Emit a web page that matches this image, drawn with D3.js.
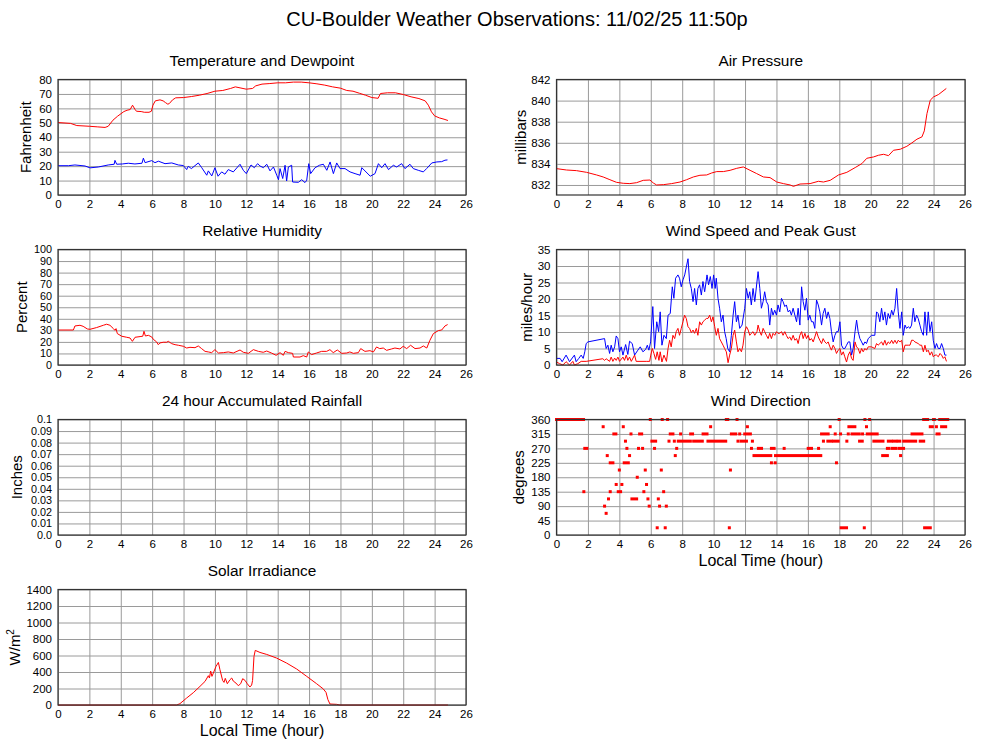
<!DOCTYPE html>
<html>
<head>
<meta charset="utf-8">
<script src="https://cdn.jsdelivr.net/npm/d3@7"></script>
<style>
  body { margin: 0; background: #fff; }
  svg text { font-family: "Liberation Sans", Arial, Helvetica, sans-serif; fill: #000; }
</style>
</head>
<body>
<svg id="chart" width="1000" height="745"></svg>
<script>
// readings as [hour, value]
const tempF = [[0,50.2],[0.8,49.6],[1.2,48.1],[2,47.6],[2.5,47.2],[3.0,46.8],[3.2,47.6],[3.5,51.8],[3.8,54.6],[4.2,57.8],[4.4,58.7],[4.6,59.2],[4.75,62.2],[4.9,59.4],[5.0,58],[5.3,57.8],[5.5,57.3],[5.8,57.3],[5.95,58],[6.05,62.2],[6.2,65.2],[6.5,65.9],[6.7,65.2],[6.85,64],[7.0,62.9],[7.1,63.4],[7.3,65.9],[7.5,67.3],[8,67.5],[8.5,68.2],[9,69.1],[9.5,70.3],[10,71.9],[10.5,72.4],[11,73.8],[11.3,74.9],[11.6,74.2],[12,73.3],[12.4,73.8],[12.6,75.6],[13,76.8],[13.5,77.2],[14,77.7],[14.5,77.7],[15,78.2],[15.5,78.2],[16,77.7],[16.5,77.0],[17,76.1],[17.5,74.9],[18,74],[18.4,72.4],[18.8,71.9],[19.2,70.5],[19.6,69.1],[20,67.5],[20.4,67],[20.55,70.3],[21,70.8],[21.5,70.8],[22,69.6],[22.5,68],[23,66.8],[23.4,65.2],[23.6,62.2],[23.8,57.6],[24,54.8],[24.3,53.4],[24.6,52.5],[24.85,51.6]];

const dewF = [[0,20.3],[0.66,20.3],[1.08,20.8],[1.72,20.1],[2.04,18.8],[2.57,19.4],[3.2,20.8],[3.58,21.3],[3.63,24.0],[3.74,21.3],[4.1,21.5],[4.48,22.0],[4.9,21.5],[5.35,22.0],[5.44,25.5],[5.55,22.4],[5.97,23.8],[6.18,22.4],[6.4,23.4],[6.82,21.7],[7.25,22.2],[7.67,20.8],[7.99,20.4],[8.2,17.6],[8.3,19.9],[8.5,18.3],[8.94,22.2],[9.16,18.9],[9.48,13.7],[9.58,16.7],[9.8,13.2],[10.0,18.9],[10.2,13.0],[10.43,16.0],[10.64,14.4],[10.85,17.6],[11.17,16.0],[11.6,21.3],[11.81,17.1],[12.0,14.8],[12.3,20.8],[12.51,18.9],[12.72,21.7],[12.87,20.1],[13.09,18.9],[13.3,21.3],[13.51,16.7],[13.73,19.4],[13.94,13.7],[14.05,10.6],[14.15,18.3],[14.32,11.4],[14.47,20.6],[14.57,9.7],[14.68,19.4],[14.89,20.6],[14.95,9.0],[15.32,8.8],[15.53,10.6],[15.74,8.6],[15.85,10.2],[15.98,21.7],[16.1,14.8],[16.38,18.9],[16.66,20.6],[16.91,21.3],[17.13,17.1],[17.34,22.9],[17.55,14.8],[17.76,22.2],[17.97,18.3],[18.29,18.3],[18.61,16.0],[18.93,14.8],[19.25,13.7],[19.36,18.9],[19.9,13.0],[20.2,14.8],[20.42,21.7],[20.63,18.9],[20.84,21.7],[21.06,17.6],[21.37,20.6],[21.58,19.4],[21.9,21.7],[22.11,18.3],[22.43,21.3],[22.64,18.3],[22.96,17.1],[23.28,16.0],[23.49,18.3],[23.82,22.2],[24.14,22.9],[24.45,23.1],[24.66,24.1],[24.82,24.3]];

const pressureMb = [[0,833.55],[0.64,833.42],[1.27,833.36],[1.91,833.2],[2.55,832.95],[2.97,832.76],[3.4,832.5],[3.82,832.25],[4.25,832.16],[4.67,832.13],[5.1,832.22],[5.52,832.44],[5.95,832.47],[6.16,832.19],[6.37,832.0],[6.8,832.03],[7.33,832.13],[7.86,832.28],[8.28,832.5],[8.71,832.76],[9.13,832.92],[9.56,832.95],[9.88,833.14],[10.2,833.27],[10.62,833.27],[11.05,833.39],[11.47,833.58],[11.89,833.71],[12.32,833.39],[12.74,833.08],[13.17,832.76],[13.59,832.7],[14.02,832.28],[14.44,832.13],[14.87,832.0],[15.08,831.87],[15.5,832.09],[16.14,832.13],[16.67,832.35],[16.99,832.28],[17.42,832.44],[17.95,832.95],[18.48,833.2],[19.01,833.65],[19.44,834.03],[19.75,834.53],[20.18,834.66],[20.5,834.82],[20.82,834.91],[21.13,834.78],[21.45,835.29],[21.88,835.39],[22.3,835.67],[22.62,835.99],[22.94,836.34],[23.26,836.56],[23.41,837.13],[23.58,838.77],[23.79,840.04],[24.0,840.35],[24.32,840.58],[24.81,841.15]];

const humidityPct = [[0,30.3],[0.98,30.3],[1.08,33.8],[1.4,34.4],[1.6,33.5],[1.87,31.2],[2.04,30.9],[2.46,32.4],[2.89,34.4],[3.1,35.3],[3.31,34.4],[3.53,31.5],[3.63,30.0],[3.7,31.5],[3.78,27.2],[4.06,24.9],[4.38,24.0],[4.59,23.4],[4.74,20.5],[4.91,24.0],[5.23,24.6],[5.4,24.9],[5.48,29.2],[5.57,25.1],[5.76,25.7],[5.97,24.3],[6.07,22.3],[6.29,19.9],[6.39,17.6],[6.5,19.1],[6.71,19.7],[6.92,19.7],[7.03,20.5],[7.24,18.5],[7.46,17.6],[7.67,17.1],[7.99,16.2],[8.2,14.7],[8.41,15.3],[8.73,15.0],[8.94,16.5],[9.15,14.2],[9.37,11.8],[9.58,11.3],[9.79,10.7],[10.0,13.3],[10.22,10.4],[10.54,10.7],[10.85,11.3],[11.17,10.4],[11.6,13.0],[11.81,11.0],[12.13,10.1],[12.45,13.3],[12.77,11.8],[13.08,11.0],[13.3,12.1],[13.6,10.4],[13.9,8.4],[14.15,10.7],[14.36,8.4],[14.47,11.8],[14.68,10.7],[14.95,10.1],[15.0,6.9],[15.42,6.9],[15.63,8.1],[15.85,6.9],[15.95,11.3],[16.16,9.0],[16.48,10.4],[16.8,11.8],[17.12,11.8],[17.33,13.3],[17.54,10.7],[17.8,13.0],[18.08,10.1],[18.4,10.4],[18.6,11.3],[18.82,10.1],[19.14,10.7],[19.29,14.2],[19.56,11.8],[19.88,12.4],[20.1,11.3],[20.3,15.6],[20.5,14.2],[20.73,14.7],[20.94,12.7],[21.26,13.9],[21.47,14.7],[21.79,13.9],[22.0,16.2],[22.22,14.2],[22.47,17.1],[22.75,14.2],[23.07,14.7],[23.28,16.5],[23.5,14.7],[23.7,21.4],[23.92,27.2],[24.24,29.8],[24.45,30.3],[24.66,33.8],[24.83,35.0]];

const gustMph = [[0,2],[0.23,2],[0.36,1],[0.61,3],[0.83,1],[1.14,3],[1.25,1],[1.42,2],[1.57,3],[1.7,2],[1.8,4],[1.89,6.5],[2.0,7],[3.06,8],[3.16,5],[3.27,6],[3.38,3.5],[3.48,6],[3.59,4],[3.7,5.5],[3.8,8.8],[3.91,8],[4.01,4],[4.12,5.5],[4.23,3],[4.4,6.2],[4.54,3.2],[4.65,7.2],[4.82,6.5],[4.97,3],[5.18,4.5],[5.33,5.5],[5.5,4],[5.67,4.7],[5.78,6],[5.88,4.5],[5.99,7],[6.13,17.7],[6.24,5],[6.38,13.1],[6.5,10.1],[6.6,16.1],[6.71,6],[6.84,9],[6.99,8],[7.1,15.1],[7.24,15.6],[7.37,23.7],[7.47,20.2],[7.58,26.3],[7.73,27.3],[7.83,26.3],[7.94,23.7],[8.05,25.8],[8.16,27.3],[8.37,32.2],[8.47,25.3],[8.58,23.2],[8.69,19.2],[8.79,23.2],[8.9,18.2],[9.0,23.2],[9.11,24.3],[9.22,21.2],[9.32,25.3],[9.43,22.2],[9.58,27.3],[9.68,24.3],[9.79,26.8],[9.9,23.2],[10.0,27.3],[10.1,23.2],[10.17,26.3],[10.28,20.2],[10.38,17.2],[10.49,13.1],[10.6,15.1],[10.7,10.1],[10.8,8],[10.9,5],[11.02,4],[11.13,9],[11.24,15.1],[11.34,19.2],[11.45,13.1],[11.55,15.1],[11.66,11.1],[11.81,12.1],[11.98,17.2],[12.09,23.2],[12.2,20.2],[12.3,22.2],[12.4,18.2],[12.51,23.2],[12.62,19.2],[12.83,28.3],[12.94,23.2],[13.04,17.2],[13.15,19.2],[13.25,22.2],[13.36,19.2],[13.47,18.2],[13.57,12.1],[13.68,17.2],[13.78,15.1],[13.89,16.6],[14.0,15.1],[14.1,18.2],[14.21,16.1],[14.32,20.2],[14.42,19.2],[14.53,17.7],[14.63,18.2],[14.74,16.1],[14.85,16.6],[14.95,15.1],[15.06,17.2],[15.17,15.1],[15.28,13.1],[15.38,17.2],[15.49,12.1],[15.6,23.7],[15.7,19.2],[15.81,16.6],[15.91,20.2],[16.02,13.6],[16.12,15.1],[16.23,13.1],[16.34,13.1],[16.44,11.1],[16.55,19.7],[16.66,18.2],[16.76,16.1],[16.87,12.1],[16.97,15.6],[17.08,17.2],[17.19,14.1],[17.29,16.1],[17.4,14.1],[17.5,10.1],[17.61,7],[17.72,9],[17.82,10.1],[17.93,10.1],[18.04,13.1],[18.14,6],[18.25,5],[18.35,5],[18.46,6],[18.57,7],[18.67,7],[18.78,3],[18.88,5],[19.0,10.1],[19.1,13.6],[19.2,10.1],[19.31,8],[19.42,7],[19.52,6],[19.63,7],[19.73,6.5],[19.84,8],[20.05,9],[20.26,9],[20.37,16.1],[20.47,15.6],[20.58,13.1],[20.69,17.2],[20.79,13.6],[20.9,16.1],[21.0,12.1],[21.11,15.6],[21.22,14.1],[21.33,16.6],[21.43,15.1],[21.54,17.2],[21.65,23.2],[21.75,16.1],[21.86,11.1],[21.97,16.1],[22.07,9],[22.18,12.1],[22.28,11.1],[22.39,11.6],[22.5,11.1],[22.6,12.1],[22.71,17.2],[22.81,13.1],[22.92,15.1],[23.02,14.1],[23.13,12.1],[23.24,10.1],[23.35,9],[23.45,16.1],[23.56,9],[23.66,16.1],[23.77,10.1],[23.88,13.1],[23.98,7.5],[24.09,5],[24.19,6.5],[24.3,5],[24.41,5],[24.51,6.5],[24.62,5],[24.72,3],[24.82,3]];

const speedMph = [[0,0.9],[0.2,0.4],[0.41,0],[0.61,1],[0.83,0],[1.04,1.1],[1.14,0],[1.36,0.4],[1.57,1.1],[1.89,1.1],[2.95,1.9],[3.06,1.4],[3.16,1.9],[3.38,1.1],[3.48,2.4],[3.59,1.1],[3.7,2.1],[3.8,1.4],[3.91,2.4],[4.01,1.1],[4.23,2.4],[4.33,1.4],[4.44,3],[4.54,1.4],[4.65,2.4],[4.76,1.1],[4.97,3],[5.07,1.1],[5.71,1.1],[5.93,1.1],[6.0,3],[6.1,5],[6.2,3.5],[6.31,1.7],[6.41,4],[6.52,1.4],[6.6,4],[6.71,0.9],[6.84,3],[7.0,1.1],[7.1,5],[7.2,7.5],[7.3,5.5],[7.41,9],[7.52,8],[7.62,10.1],[7.73,11.1],[7.83,9],[7.94,11.1],[8.05,13.1],[8.15,15.1],[8.26,14.1],[8.37,11.6],[8.47,11.1],[8.58,9.8],[8.69,10.6],[8.79,9.6],[8.9,11.1],[9.0,9],[9.11,13.1],[9.22,12.1],[9.32,13.1],[9.43,13.6],[9.54,14.1],[9.64,14.1],[9.75,15.1],[9.86,13.1],[9.96,14.6],[10.07,11.6],[10.17,9],[10.28,11.1],[10.38,8],[10.49,7],[10.6,6],[10.7,5],[10.81,4],[10.92,0.7],[11.02,3],[11.13,5],[11.24,9],[11.34,10.6],[11.45,7],[11.55,4],[11.66,5],[11.77,4],[11.87,6],[11.98,10.1],[12.09,11.6],[12.2,10.6],[12.3,9],[12.4,9.6],[12.51,10.1],[12.62,9],[12.76,10.1],[12.83,12.1],[12.94,10.1],[13.04,9],[13.15,11.1],[13.25,10.1],[13.36,9],[13.47,8],[13.57,9.6],[13.68,8],[13.78,9.6],[13.89,9],[14.0,10.1],[14.1,9.6],[14.21,9.6],[14.32,10.1],[14.42,9],[14.53,10.1],[14.63,9],[14.74,8],[14.85,8.5],[14.95,7.5],[15.06,9],[15.17,7.5],[15.28,8],[15.38,6.5],[15.49,9],[15.6,10.1],[15.7,8],[15.81,9.6],[15.91,8],[16.02,9],[16.12,7.5],[16.23,8],[16.34,7],[16.44,8.5],[16.55,10.1],[16.66,8.5],[16.76,7.5],[16.87,6.5],[16.97,8],[17.08,7],[17.19,6.5],[17.29,7],[17.4,5.5],[17.5,4.5],[17.61,6],[17.72,5],[17.82,3.5],[17.93,4.5],[18.04,5],[18.14,3],[18.25,4],[18.35,2.5],[18.46,0.9],[18.57,3],[18.67,4],[18.78,2],[18.88,1.4],[19.0,7],[19.1,5.5],[19.2,5],[19.31,3.5],[19.42,5],[19.52,4],[19.63,5],[19.73,4.5],[19.84,5.5],[20.05,5.5],[20.26,5],[20.37,6.5],[20.47,6],[20.69,7],[20.79,6],[20.9,7.5],[21.0,6],[21.11,7],[21.22,6.5],[21.33,7.5],[21.43,6.5],[21.54,7.5],[21.65,6.5],[21.75,7.5],[21.86,7],[21.97,7.5],[22.07,4],[22.18,6],[22.39,6],[22.5,6],[22.6,7.5],[22.71,7.5],[22.81,7],[23.02,6.5],[23.13,6],[23.24,6],[23.35,4],[23.45,6],[23.56,4],[23.66,4.5],[23.77,3],[23.88,4],[23.98,2.5],[24.09,3],[24.19,3],[24.3,2.5],[24.41,3.5],[24.51,3],[24.62,2],[24.72,2.5],[24.82,1.1]];

// wind direction runs: [fromHour, toHour, degrees]
const windDir = [
  [0,1.72,360],[5.97,5.97,360],[6.73,6.73,360],[7.07,7.07,360],[10.81,10.9,360],[11.49,11.49,360],[17.99,17.99,360],[19.63,19.63,360],[19.93,19.93,360],[23.37,23.62,360],[24.0,24.05,360],[24.39,24.9,360],
  [2.97,2.97,337.5],[4.25,4.25,337.5],[9.81,9.81,337.5],[12.15,12.15,337.5],[17.42,17.42,337.5],[18.61,18.99,337.5],[19.73,19.73,337.5],[23.79,23.92,337.5],[24.18,24.18,337.5],[24.51,24.77,337.5],
  [3.65,3.78,315],[4.74,4.74,315],[5.29,5.42,315],[7.24,7.41,315],[7.9,7.9,315],[8.54,8.66,315],[9.33,9.58,315],[11.13,11.41,315],[11.66,11.66,315],[11.98,12.34,315],[16.87,17.29,315],[17.74,17.74,315],[18.08,18.08,315],[18.57,18.57,315],[18.81,19.27,315],[19.48,19.48,315],[19.78,20.41,315],[22.63,23.26,315],[24.22,24.35,315],
  [4.39,4.39,292.5],[6.07,6.31,292.5],[7.16,7.16,292.5],[7.5,7.5,292.5],[7.75,8.52,292.5],[8.73,9.28,292.5],[9.64,10.77,292.5],[11.55,11.55,292.5],[11.75,12.09,292.5],[12.47,12.47,292.5],[16.99,16.99,292.5],[17.27,17.5,292.5],[17.65,17.93,292.5],[18.48,18.48,292.5],[19.29,19.46,292.5],[20.2,20.78,292.5],[21.12,21.3,292.5],[21.45,21.6,292.5],[21.75,21.85,292.5],[22.1,22.86,292.5],[23.15,23.37,292.5],
  [1.8,1.93,270],[4.48,4.48,270],[5.22,5.22,270],[5.48,5.48,270],[6.24,6.24,270],[7.65,7.65,270],[12.41,12.41,270],[12.85,13.05,270],[13.68,13.85,270],[14.49,14.49,270],[16.02,16.23,270],[16.68,16.68,270],[21.06,21.16,270],[21.37,21.58,270],[21.79,22.09,270],
  [3.23,3.23,247.5],[4.65,4.65,247.5],[7.56,7.56,247.5],[12.57,13.64,247.5],[13.94,16.82,247.5],[20.76,21.06,247.5],[21.9,21.9,247.5],
  [3.42,3.59,225],[4.31,4.57,225],[13.68,13.68,225],[13.92,13.92,225],[17.82,17.82,225],
  [4.0,4.0,202.5],[5.65,5.65,202.5],[6.67,6.67,202.5],[11.07,11.07,202.5],
  [5.14,5.14,180],
  [3.8,3.8,157.5],[4.16,4.16,157.5],[5.73,5.73,157.5],
  [1.74,1.74,135],[3.42,3.42,135],[3.93,4.08,135],[5.56,5.56,135],[6.82,6.82,135],
  [3.31,3.31,112.5],[4.8,5.1,112.5],[5.82,5.82,112.5],[6.48,6.48,112.5],
  [3.06,3.06,90],[5.9,5.9,90],[6.56,6.56,90],[6.99,6.99,90],
  [3.16,3.16,67.5],
  [6.41,6.41,22.5],[6.92,6.92,22.5],[11.0,11.0,22.5],[18.12,18.46,22.5],[19.59,19.59,22.5],[23.43,23.79,22.5]
];

const solarWm2 = [[0,0],[7.56,0],[7.77,16],[8.2,85],[8.62,149],[9.05,226],[9.37,286],[9.58,355],[9.65,327],[9.73,411],[9.81,347],[9.9,387],[10.07,468],[10.22,516],[10.32,428],[10.49,298],[10.58,274],[10.66,323],[10.79,258],[10.96,307],[11.07,327],[11.17,290],[11.34,266],[11.49,234],[11.64,258],[11.77,319],[11.92,298],[12.06,258],[12.23,218],[12.34,242],[12.4,298],[12.49,589],[12.57,662],[12.87,637],[13.3,613],[13.93,569],[14.57,508],[15.21,436],[15.85,347],[16.48,258],[16.91,194],[17.08,153],[17.2,65],[17.33,12],[17.76,8],[17.97,0],[24.85,0]];

const rainIn = []; // no rain recorded

const hourTicks = d3.range(0, 27, 2);
const tempTicks = d3.range(0, 81, 10);
const pressTicks = d3.range(832, 843, 2);
const rhTicks = d3.range(0, 101, 10);
const windTicks = d3.range(0, 36, 5);
const rainTicks = d3.range(0, 11).map(d => d / 100);
const dirTicks = d3.range(0, 361, 45);
const solarTicks = d3.range(0, 1401, 200);

const svg = d3.select("#chart");
const cols = [[58, 466], [556.5, 965]];
const rowTop = [79.5, 249.5, 419.5, 589.5];
const plotH = 115.5;

svg.append("text").attr("x", 517).attr("y", 26).attr("text-anchor", "middle")
  .style("font-size", "20px").text("CU-Boulder Weather Observations: 11/02/25 11:50p");

const panels = [
  {title: "Temperature and Dewpoint", col: 0, row: 0, domain: [0, 80], ticks: tempTicks, label: "Fahrenheit", off: 32,
   lines: [{data: tempF, color: "#ff0000"}, {data: dewF, color: "#0000ff"}]},
  {title: "Air Pressure", col: 1, row: 0, domain: [831.05, 842], ticks: pressTicks, label: "millibars", off: 36,
   lines: [{data: pressureMb, color: "#ff0000"}]},
  {title: "Relative Humidity", col: 0, row: 1, domain: [0, 100], ticks: rhTicks, label: "Percent", off: 36,
   lines: [{data: humidityPct, color: "#ff0000"}]},
  {title: "Wind Speed and Peak Gust", col: 1, row: 1, domain: [0, 35], ticks: windTicks, label: "miles/hour", off: 30,
   lines: [{data: gustMph, color: "#0000ff"}, {data: speedMph, color: "#ff0000"}]},
  {title: "24 hour Accumulated Rainfall", col: 0, row: 2, domain: [0, 0.1], ticks: rainTicks, label: "Inches", off: 41,
   fmt: d => d === 0 ? "0.0" : String(+d.toFixed(2)), lines: [{data: rainIn, color: "#ff0000"}]},
  {title: "Wind Direction", col: 1, row: 2, domain: [0, 360], ticks: dirTicks, label: "degrees", off: 38,
   dots: windDir, xTitle: true, lines: []},
  {title: "Solar Irradiance", col: 0, row: 3, domain: [0, 1400], ticks: solarTicks, label: "W/m", sup: "2", off: 43,
   xTitle: true, lines: [{data: solarWm2, color: "#ff0000"}]}
];

panels.forEach(p => {
  const [x0, x1] = cols[p.col];
  const top = rowTop[p.row], bottom = top + plotH;
  const x = d3.scaleLinear().domain([0, 26]).range([x0, x1]);
  const y = d3.scaleLinear().domain(p.domain).range([bottom, top]);
  const g = svg.append("g");

  // grid
  g.append("g").attr("transform", `translate(0,${bottom})`)
    .call(d3.axisBottom(x).tickValues(hourTicks).tickSize(-plotH).tickFormat(""))
    .call(a => a.select(".domain").remove())
    .call(a => a.selectAll("line").attr("stroke", "#9a9a9a"));
  g.append("g").attr("transform", `translate(${x0},0)`)
    .call(d3.axisLeft(y).tickValues(p.ticks).tickSize(-(x1 - x0)).tickFormat(""))
    .call(a => a.select(".domain").remove())
    .call(a => a.selectAll("line").attr("stroke", "#9a9a9a"));

  // tick labels
  g.append("g").attr("transform", `translate(0,${bottom})`)
    .call(d3.axisBottom(x).tickValues(hourTicks).tickSize(0).tickPadding(5).tickFormat(d3.format("d")))
    .call(a => a.select(".domain").remove())
    .call(a => a.selectAll("text").style("font-size", "11.5px").attr("fill", "#000"));
  g.append("g").attr("transform", `translate(${x0},0)`)
    .call(d3.axisLeft(y).tickValues(p.ticks).tickSize(0).tickPadding(6).tickFormat(p.fmt || d3.format("d")))
    .call(a => a.select(".domain").remove())
    .call(a => a.selectAll("text").style("font-size", p.ticks.length > 9 ? "10.8px" : "11.5px").attr("fill", "#000"));

  // series
  const line = d3.line().x(d => x(d[0])).y(d => y(d[1]));
  p.lines.filter(s => s.data.length).forEach(s => {
    g.append("path").datum(s.data).attr("d", line)
      .attr("fill", "none").attr("stroke", s.color).attr("stroke-width", 1);
  });
  if (p.dots) {
    g.selectAll("rect.dot").data(p.dots).join("rect").attr("class", "dot")
      .attr("x", d => x(d[0]) - 1.5).attr("y", d => y(d[2]) - 1.5)
      .attr("width", d => x(d[1]) - x(d[0]) + 3).attr("height", 3)
      .attr("fill", "#ff0000");
  }

  // frame
  g.append("rect").attr("x", x0).attr("y", top).attr("width", x1 - x0).attr("height", plotH)
    .attr("fill", "none").attr("stroke", "#333").attr("stroke-width", 1.2);

  // titles
  g.append("text").attr("x", (x0 + x1) / 2).attr("y", top - 13.5).attr("text-anchor", "middle")
    .style("font-size", "15.4px").text(p.title);
  const lx = x0 - p.off, ly = (top + bottom) / 2;
  const lab = g.append("text").attr("transform", `translate(${lx + 5},${ly}) rotate(-90)`)
    .attr("text-anchor", "middle").style("font-size", "15px").text(p.label);
  if (p.sup) lab.append("tspan").attr("dy", -6).style("font-size", "10px").text(p.sup);
  if (p.xTitle) {
    g.append("text").attr("x", (x0 + x1) / 2).attr("y", bottom + 31).attr("text-anchor", "middle")
      .style("font-size", "16px").text("Local Time (hour)");
  }
});
</script>
</body>
</html>
